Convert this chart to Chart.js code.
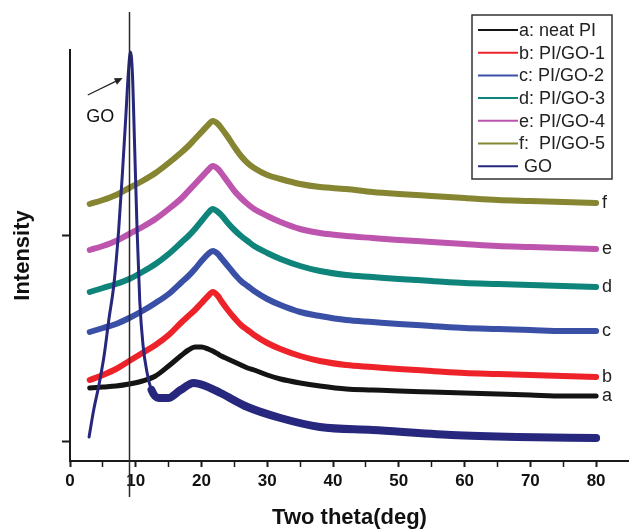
<!DOCTYPE html>
<html>
<head>
<meta charset="utf-8">
<script src="https://cdn.jsdelivr.net/npm/chart.js@4.4.1/dist/chart.umd.min.js"></script>
<style>
  html, body { margin: 0; padding: 0; background: #fff; }
  canvas { display: block; }
</style>
</head>
<body>
<canvas id="xrd" width="629" height="531"></canvas>
<script>
// ==========================================
// XRD patterns: neat PI, PI/GO films and GO
// ==========================================
const twoTheta = [3, 5, 7, 9, 11, 13, 15, 17, 18, 19, 20, 21, 21.7, 22.5, 23, 24, 25, 26, 27, 28,
                  30, 32, 35, 38, 42, 46, 50, 55, 60, 65, 70, 75, 80];

// intensities (a.u., curves stacked with offsets)
const neatPI = [73, 74, 75, 77, 80, 85, 95, 106, 111, 114, 114, 112, 110, 107, 105, 102, 99, 96, 93, 91,
                86, 82, 78, 75, 72, 71, 70, 69, 68, 67, 66, 65, 65];
const piGO1 = [81, 86, 92, 100, 108, 116, 126, 139, 145, 151, 158, 165, 169, 165, 160, 151, 143, 136, 131, 126,
               118, 112, 105, 100, 96, 94, 92, 90, 88, 87, 86, 85, 84];
const piGO2 = [129, 133, 137, 143, 150, 158, 167, 179, 185, 192, 200, 207, 210, 207, 203, 195, 187, 180, 175, 170,
               162, 156, 149, 145, 141, 139, 137, 135, 133, 132, 131, 130, 130];
const piGO3 = [169, 173, 177, 182, 189, 197, 207, 219, 225, 232, 240, 248, 252, 249, 246, 238, 231, 225, 220, 215,
               208, 202, 195, 190, 186, 184, 182, 180, 178, 177, 176, 175, 174];
const piGO4 = [211, 215, 220, 227, 234, 242, 252, 263, 270, 277, 284, 291, 295, 292, 288, 279, 270, 263, 257, 252,
               245, 239, 232, 228, 225, 223, 221, 219, 217, 215, 214, 213, 212];
const piGO5 = [257, 261, 266, 273, 280, 288, 298, 309, 315, 322, 329, 336, 340, 337, 333, 324, 314, 305, 298, 293,
               286, 282, 277, 274, 272, 269, 267, 265, 263, 261, 260, 259, 258];

// GO has its own sampling around the sharp (001) peak
const goTheta = [2.9, 3.6, 4.4, 5.2, 5.9, 6.7, 7.4, 8.0, 8.5, 8.9, 9.2, 9.5, 9.8, 10.2, 10.6, 11.1, 11.7, 12.4,
                 13.5, 14.9, 16.8, 18.8, 20.6, 22.9, 27, 32, 38, 46, 58, 68, 80];
const goIntensity = [24, 51, 76, 106, 141, 178, 231, 291, 346, 391, 409, 386, 321, 231, 161, 116, 89, 71,
                     63, 63, 71, 78, 75, 68, 54, 43, 34, 31, 26, 24, 23];

const seriesLabels = ['a: neat PI', 'b: PI/GO-1', 'c: PI/GO-2', 'd: PI/GO-3', 'e: PI/GO-4', 'f:  PI/GO-5', ' GO'];
const curveTags = ['a', 'b', 'c', 'd', 'e', 'f'];
const seriesColors = ['#141414', '#ee2229', '#3a50a6', '#0e847a', '#bd55ae', '#868531', '#26277d'];

const xTickValues = [0, 5, 10, 15, 20, 25, 30, 35, 40, 45, 50, 55, 60, 65, 70, 75, 80];
const yTickValues = [20, 226];
const goPeakTheta = 9.15;

const FONT = "'Liberation Sans', Arial, sans-serif";

const zip = (xs, ys) => xs.map((v, i) => ({ x: v, y: ys[i] }));

const piSeries = [neatPI, piGO1, piGO2, piGO3, piGO4, piGO5];

const datasets = piSeries.map((vals, i) => ({
    label: seriesLabels[i],
    data: zip(twoTheta, vals),
    borderColor: seriesColors[i],
    borderWidth: i === 0 ? 5 : 6,
    order: 1
}));

datasets.push({
    label: seriesLabels[6],
    data: zip(goTheta, goIntensity),
    borderColor: seriesColors[6],
    borderWidth: 8,
    order: 0,
    // thin trace for the sharp peak, noisy thick band afterwards
    segment: {
        borderWidth: c => (c.p0.parsed.x < 12.4 ? 3 : 8)
    }
});

// ==========================================
// Annotations: GO line, arrow, end tags, legend
// ==========================================
const decor = {
    id: 'decor',
    afterDatasetsDraw(chart) {
        const { ctx, scales: { x, y } } = chart;
        ctx.save();

        // vertical line through the GO peak
        const lx = Math.round(x.getPixelForValue(goPeakTheta)) - 0.5;
        ctx.strokeStyle = '#2a2a2a';
        ctx.lineWidth = 1.5;
        ctx.beginPath();
        ctx.moveTo(lx, 12);
        ctx.lineTo(lx, 497);
        ctx.stroke();

        // arrow pointing to the peak
        const ax0 = x.getPixelForValue(2.7), ay0 = y.getPixelForValue(366);
        const ax1 = x.getPixelForValue(8.0), ay1 = y.getPixelForValue(383);
        const ang = Math.atan2(ay1 - ay0, ax1 - ax0);
        ctx.lineWidth = 1.2;
        ctx.strokeStyle = '#222';
        ctx.beginPath();
        ctx.moveTo(ax0, ay0);
        ctx.lineTo(ax1 - 6 * Math.cos(ang), ay1 - 6 * Math.sin(ang));
        ctx.stroke();
        ctx.fillStyle = '#222';
        ctx.beginPath();
        ctx.moveTo(ax1, ay1);
        ctx.lineTo(ax1 - 8 * Math.cos(ang) + 3.5 * Math.sin(ang), ay1 - 8 * Math.sin(ang) - 3.5 * Math.cos(ang));
        ctx.lineTo(ax1 - 8 * Math.cos(ang) - 3.5 * Math.sin(ang), ay1 - 8 * Math.sin(ang) + 3.5 * Math.cos(ang));
        ctx.closePath();
        ctx.fill();

        ctx.font = '18px ' + FONT;
        ctx.fillStyle = '#111';
        ctx.textAlign = 'center';
        ctx.textBaseline = 'middle';
        ctx.fillText('GO', x.getPixelForValue(4.6), y.getPixelForValue(344));

        // a..f tags at the end of each pattern
        ctx.textAlign = 'left';
        ctx.fillStyle = '#222';
        curveTags.forEach((t, i) => {
            const pts = chart.getDatasetMeta(i).data;
            const p = pts[pts.length - 1];
            ctx.fillText(t, p.x + 6, p.y);
        });

        // legend box
        const bx = 472, by = 15, bw = 140, bh = 164, rowH = 22.7;
        ctx.strokeStyle = '#333';
        ctx.lineWidth = 1.5;
        ctx.strokeRect(bx, by, bw, bh);
        chart.data.datasets.forEach((ds, i) => {
            const ry = by + 15 + i * rowH;
            ctx.strokeStyle = ds.borderColor;
            ctx.lineWidth = 2;
            ctx.beginPath();
            ctx.moveTo(bx + 6, ry);
            ctx.lineTo(bx + 46, ry);
            ctx.stroke();
            ctx.fillStyle = '#222';
            ctx.fillText(ds.label, bx + 47, ry + 1);
        });

        ctx.restore();
    }
};

new Chart(document.getElementById('xrd'), {
    type: 'line',
    data: { datasets },
    options: {
        responsive: false,
        animation: false,
        devicePixelRatio: 1,
        layout: { padding: { top: 50, right: 0, left: 0, bottom: 0 } },
        elements: {
            point: { radius: 0 },
            line: { cubicInterpolationMode: 'monotone', borderJoinStyle: 'round', borderCapStyle: 'round' }
        },
        plugins: {
            legend: { display: false },
            tooltip: { enabled: false }
        },
        scales: {
            x: {
                type: 'linear',
                min: 0,
                max: 85,
                border: { color: '#1a1a1a', width: 2 },
                grid: {
                    drawOnChartArea: false,
                    drawTicks: true,
                    tickLength: 6,
                    tickColor: '#1a1a1a',
                    tickWidth: c => (c.tick && c.tick.value % 10 === 0 ? 2 : 1.5)
                },
                afterBuildTicks: s => { s.ticks = xTickValues.map(v => ({ value: v })); },
                afterFit: s => { s.height = 70; },
                ticks: {
                    autoSkip: false,
                    maxRotation: 0,
                    padding: 4,
                    color: '#111',
                    font: { family: FONT, size: 17, weight: 'bold' },
                    callback: v => (v % 10 === 0 ? String(v) : '')
                },
                title: {
                    display: true,
                    text: 'Two theta(deg)',
                    color: '#111',
                    font: { family: FONT, size: 22, weight: 'bold' },
                    padding: { top: 0, bottom: 0 }
                }
            },
            y: {
                type: 'linear',
                min: 0,
                max: 411,
                border: { color: '#1a1a1a', width: 2 },
                grid: {
                    drawOnChartArea: false,
                    drawTicks: true,
                    tickLength: 8,
                    tickColor: '#1a1a1a',
                    tickWidth: 2
                },
                afterBuildTicks: s => { s.ticks = yTickValues.map(v => ({ value: v })); },
                afterFit: s => { s.width = 70; },
                ticks: { display: false },
                title: {
                    display: true,
                    text: 'Intensity',
                    color: '#111',
                    font: { family: FONT, size: 22, weight: 'bold' },
                    padding: { top: 10, bottom: 0 }
                }
            }
        }
    },
    plugins: [decor]
});
</script>
</body>
</html>
